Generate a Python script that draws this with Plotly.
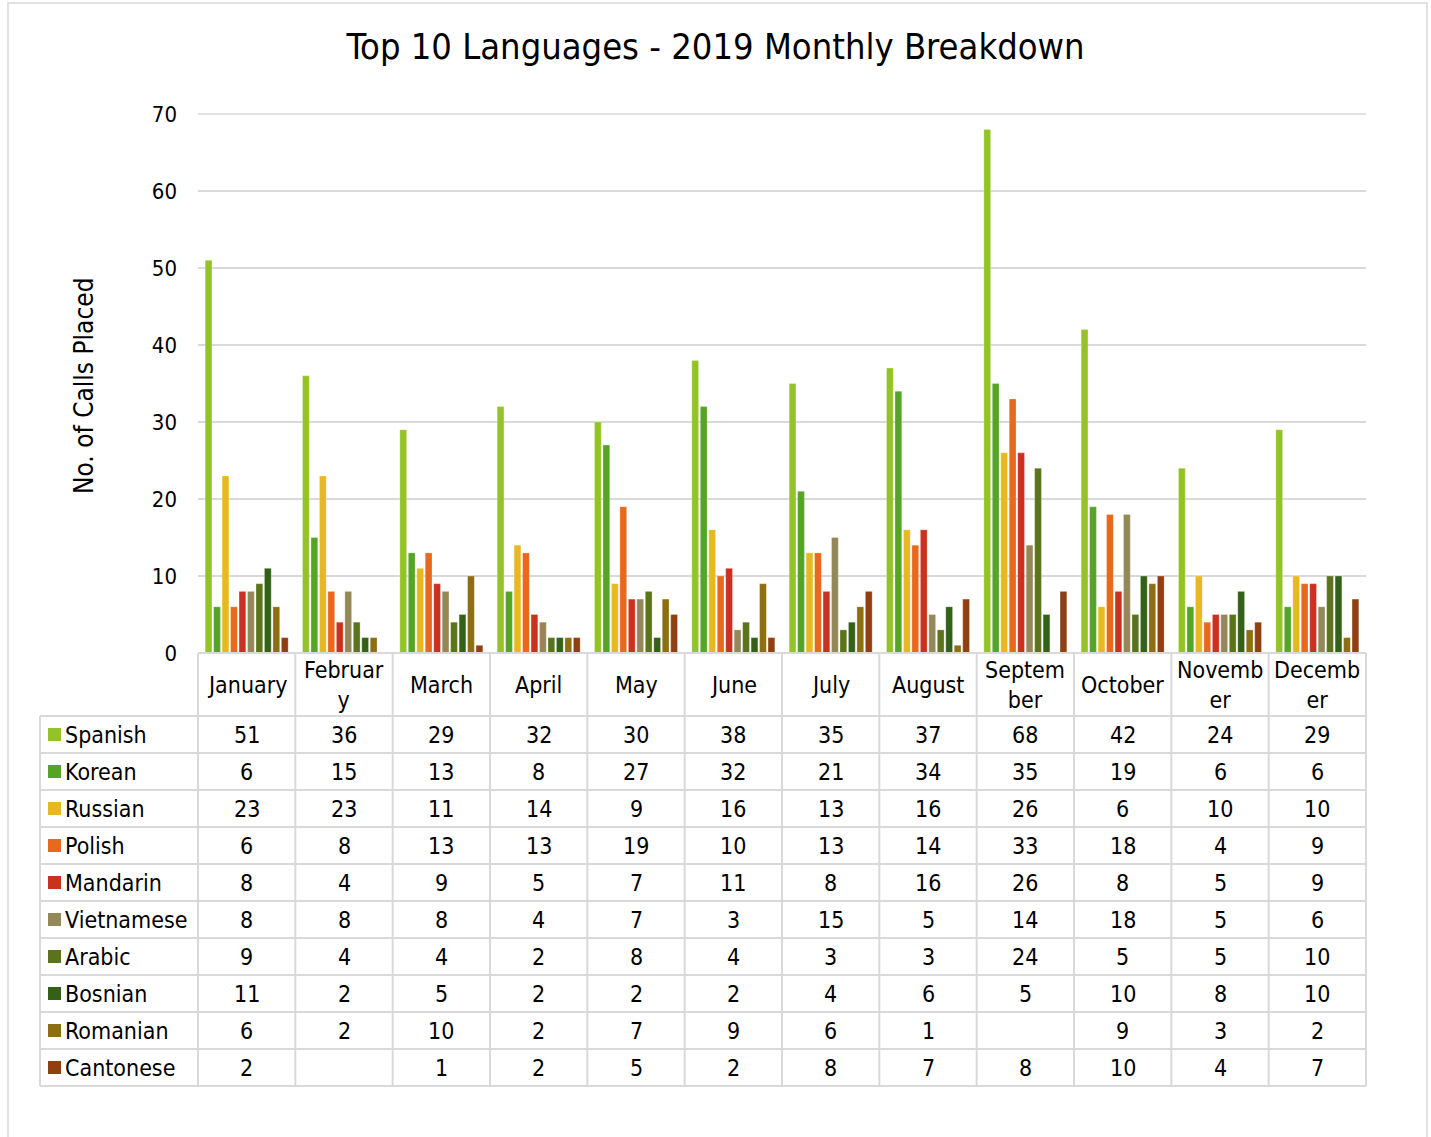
import plotly.graph_objects as go

months = ["January", "February", "March", "April", "May", "June", "July",
          "August", "September", "October", "November", "December"]
header_labels = ["January", "Februar<br>y", "March", "April", "May", "June", "July",
                 "August", "Septem<br>ber", "October", "Novemb<br>er", "Decemb<br>er"]

languages = ["Spanish", "Korean", "Russian", "Polish", "Mandarin", "Vietnamese",
             "Arabic", "Bosnian", "Romanian", "Cantonese"]

spanish = [51, 36, 29, 32, 30, 38, 35, 37, 68, 42, 24, 29]
korean = [6, 15, 13, 8, 27, 32, 21, 34, 35, 19, 6, 6]
russian = [23, 23, 11, 14, 9, 16, 13, 16, 26, 6, 10, 10]
polish = [6, 8, 13, 13, 19, 10, 13, 14, 33, 18, 4, 9]
mandarin = [8, 4, 9, 5, 7, 11, 8, 16, 26, 8, 5, 9]
vietnamese = [8, 8, 8, 4, 7, 3, 15, 5, 14, 18, 5, 6]
arabic = [9, 4, 4, 2, 8, 4, 3, 3, 24, 5, 5, 10]
bosnian = [11, 2, 5, 2, 2, 2, 4, 6, 5, 10, 8, 10]
romanian = [6, 2, 10, 2, 7, 9, 6, 1, None, 9, 3, 2]
cantonese = [2, None, 1, 2, 5, 2, 8, 7, 8, 10, 4, 7]

series = [spanish, korean, russian, polish, mandarin, vietnamese,
          arabic, bosnian, romanian, cantonese]
colors = ["#93C327", "#55A426", "#E8B820", "#E8681C", "#C9321F", "#948859",
          "#5B741C", "#336118", "#8E6E12", "#8F3F12"]

y_max = 70

FONT = "DejaVu Sans Condensed, DejaVu Sans, sans-serif"
W, H = 1431, 1137
L, R, T, B = 198, 1366, 114, 653
PW, PH = R - L, B - T

def px_x(px):
    return (px - L) / PW

def px_y(py):
    return (B - py) / PH

fig = go.Figure()
for name, vals, col in zip(languages, series, colors):
    fig.add_trace(go.Bar(
        x=months, y=vals, name=name, marker_color=col,
        marker_line=dict(color="rgba(255,255,255,0.45)", width=0.6),
        showlegend=False,
    ))

shapes = []
annotations = []
grid = "#D9D9D9"

# top gridline at the upper edge of the value range (paper y=1 == y_max)
shapes.append(dict(type="line", xref="paper", yref="paper", x0=0, x1=1, y0=1, y1=1,
                   line=dict(color=grid, width=1.5), layer="below"))

# Outer border
shapes.append(dict(type="rect", xref="paper", yref="paper",
                   x0=px_x(8), x1=px_x(1427), y0=px_y(1160), y1=px_y(3),
                   line=dict(color=grid, width=1.5), fillcolor="rgba(0,0,0,0)"))

header_bottom = 716
row_h = (1086 - 716) / 10
n = len(months)
table_bottom = header_bottom + row_h * len(languages)

# horizontal lines
shapes.append(dict(type="line", xref="paper", yref="paper", x0=0, x1=1,
                   y0=px_y(B), y1=px_y(B), line=dict(color=grid, width=2)))
for k in range(len(languages) + 1):
    yy = header_bottom + k * row_h
    shapes.append(dict(type="line", xref="paper", yref="paper",
                       x0=px_x(40), x1=1, y0=px_y(yy), y1=px_y(yy),
                       line=dict(color=grid, width=2)))
# vertical lines
shapes.append(dict(type="line", xref="paper", yref="paper", x0=px_x(40), x1=px_x(40),
                   y0=px_y(header_bottom), y1=px_y(table_bottom), line=dict(color=grid, width=2)))
for k in range(n + 1):
    xx = k / n
    shapes.append(dict(type="line", xref="paper", yref="paper", x0=xx, x1=xx,
                       y0=px_y(B), y1=px_y(table_bottom), line=dict(color=grid, width=2)))

tfont = dict(family=FONT, size=23, color="#000000")

# header labels
for i, lab in enumerate(header_labels):
    annotations.append(dict(xref="paper", yref="paper", x=(i + 0.5) / n,
                            y=px_y((B + header_bottom) / 2), text=lab, showarrow=False,
                            xanchor="center", yanchor="middle", font=tfont))

# rows
for r, (name, vals, col) in enumerate(zip(languages, series, colors)):
    yc = header_bottom + (r + 0.5) * row_h
    shapes.append(dict(type="rect", xref="paper", yref="paper",
                       x0=px_x(48), x1=px_x(61), y0=px_y(yc + 6.5), y1=px_y(yc - 6.5),
                       fillcolor=col, line=dict(width=0)))
    annotations.append(dict(xref="paper", yref="paper", x=px_x(63), y=px_y(yc),
                            text=name, showarrow=False, xanchor="left", yanchor="middle",
                            font=tfont))
    for i, v in enumerate(vals):
        if v is None:
            continue
        annotations.append(dict(xref="paper", yref="paper", x=(i + 0.5) / n, y=px_y(yc),
                                text=str(v), showarrow=False, xanchor="center",
                                yanchor="middle", font=tfont))

# y-axis title
annotations.append(dict(xref="paper", yref="paper", x=px_x(84), y=px_y(386),
                        text="No. of Calls Placed", textangle=-90, showarrow=False,
                        xanchor="center", yanchor="middle",
                        font=dict(family=FONT, size=26, color="#000000")))

fig.update_layout(
    width=W, height=H, autosize=False,
    margin=dict(l=L, r=W - R, t=T, b=H - B, pad=0),
    paper_bgcolor="white", plot_bgcolor="white",
    barmode="group", bargap=0.13, bargroupgap=0.2,
    title=dict(text="Top 10 Languages - 2019 Monthly Breakdown", xref="container",
               x=0.5, xanchor="center", y=1 - 46 / H, yref="container", yanchor="middle",
               font=dict(family=FONT, size=36, color="#000000")),
    xaxis=dict(showticklabels=False, showgrid=False, zeroline=False, showline=False,
               ticks=""),
    yaxis=dict(range=[0, y_max], dtick=10, showgrid=True, gridcolor=grid, gridwidth=1.5,
               zeroline=False, showline=False, ticks="",
               tickfont=dict(family=FONT, size=22, color="#000000"),
               ticklabelstandoff=20),
    shapes=shapes, annotations=annotations,
)

fig.write_html("out.html", post_script="document.body.style.margin='0';",
               config={"displayModeBar": False})
